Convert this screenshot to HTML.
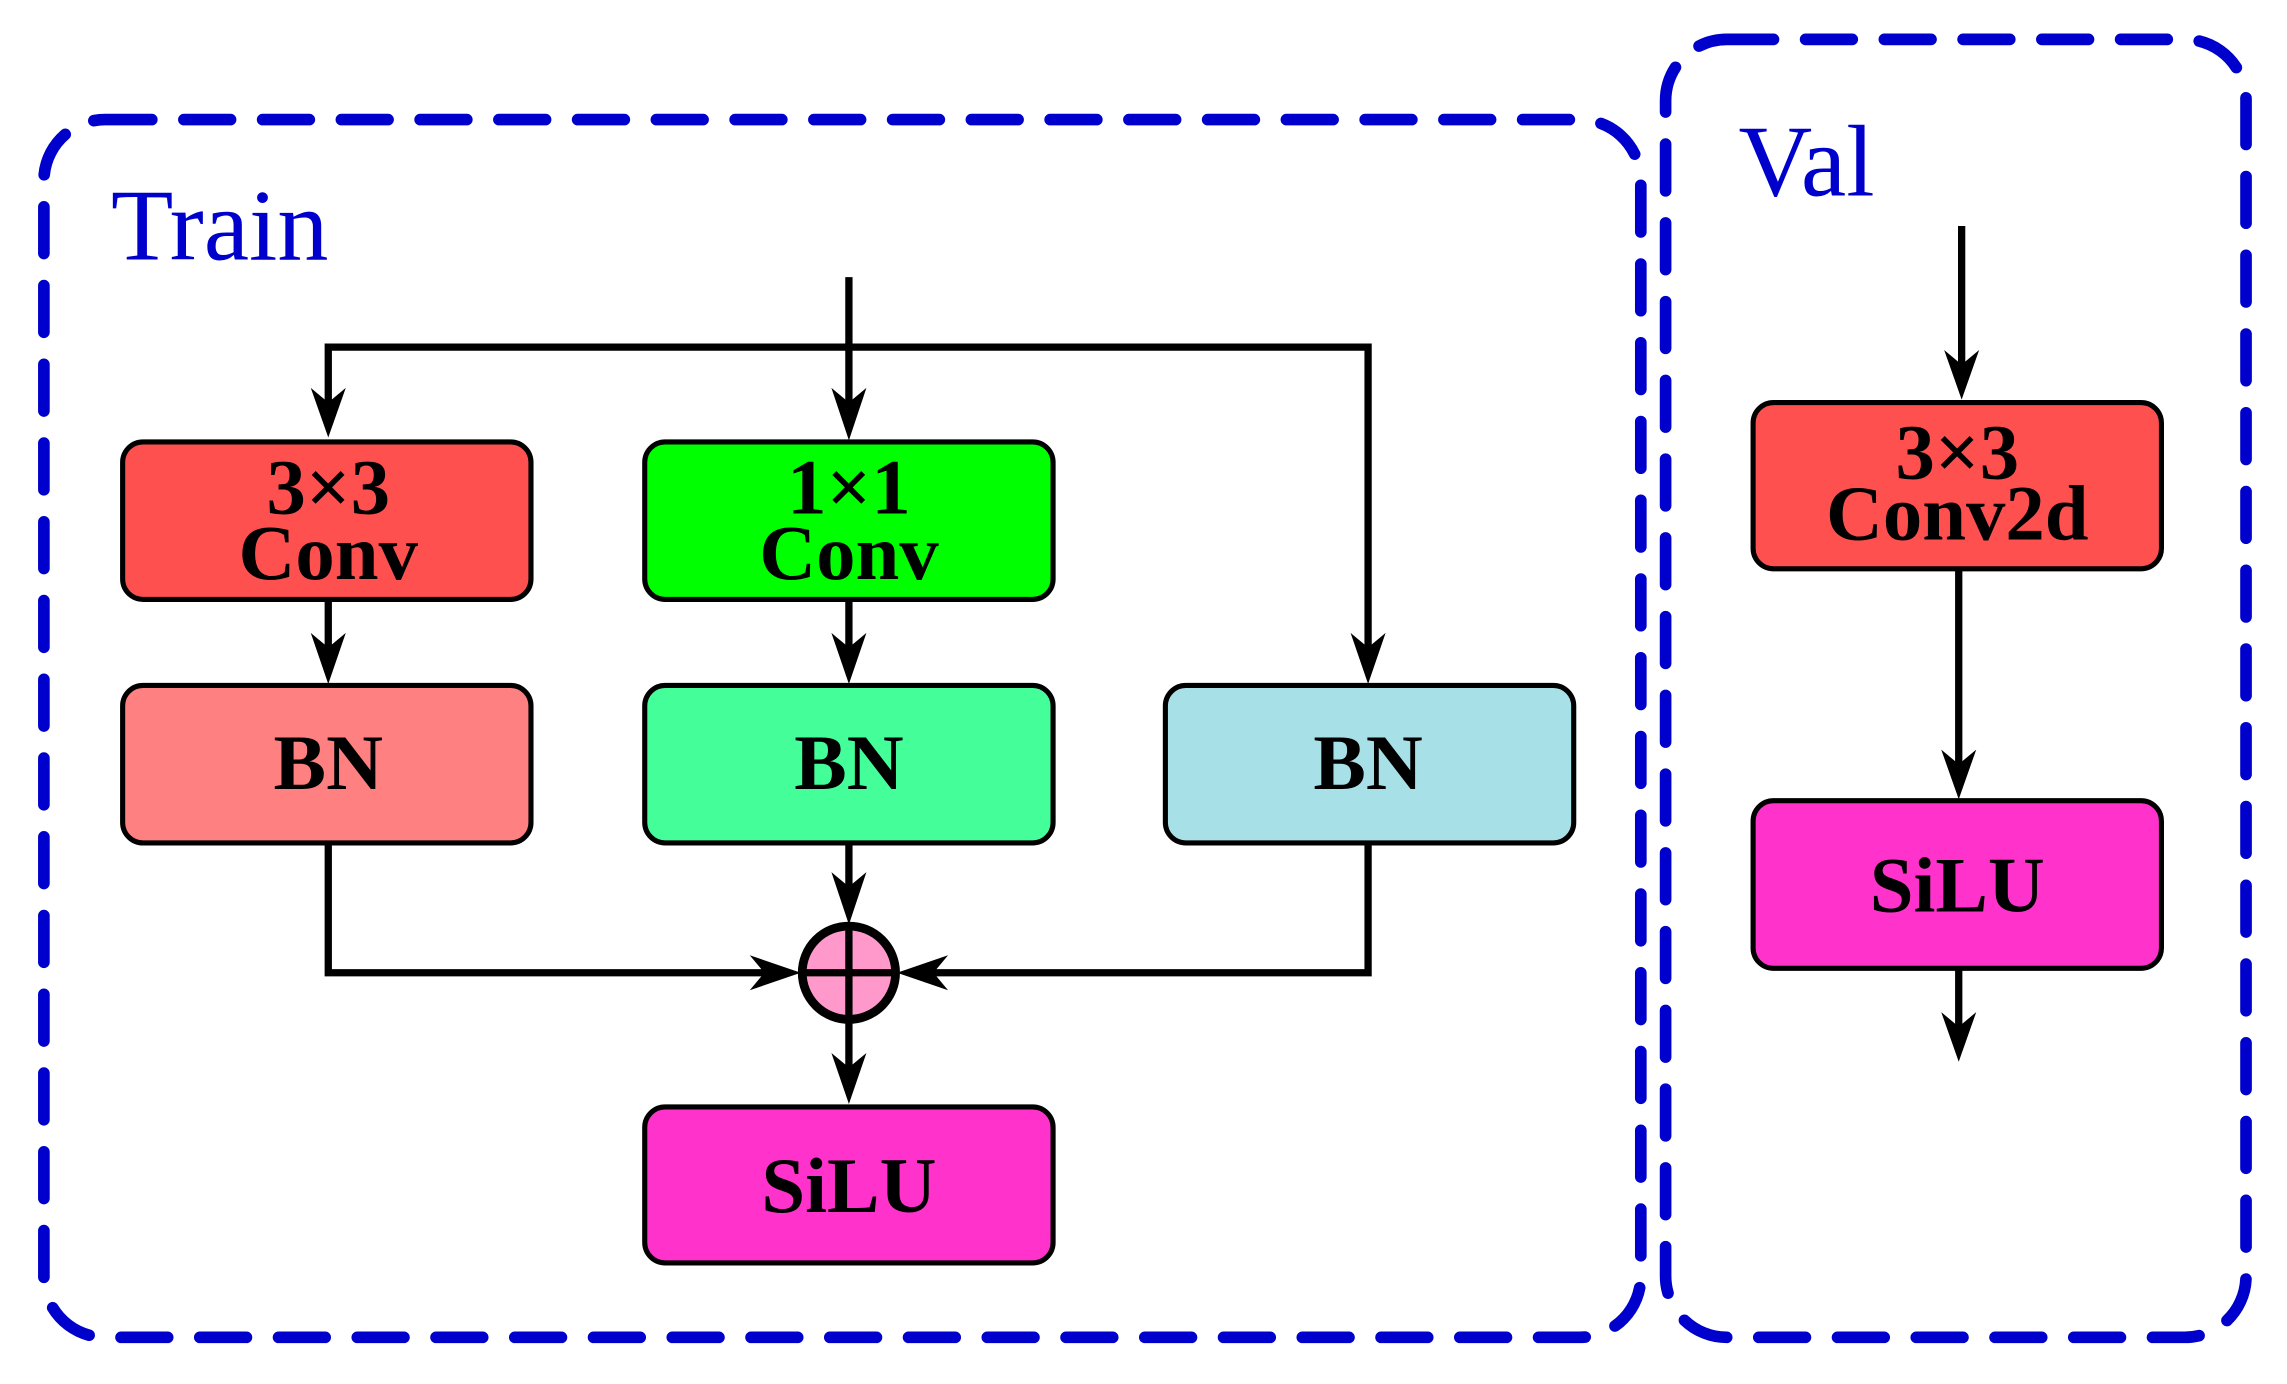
<!DOCTYPE html>
<html><head><meta charset="utf-8"><style>
html,body{margin:0;padding:0;background:#fff;}
svg{display:block;}
text{font-family:"Liberation Serif",serif;}
</style></head><body>
<svg width="2287" height="1384" viewBox="0 0 1568 949" xmlns="http://www.w3.org/2000/svg">
<rect x="30" y="82" width="1095" height="835" rx="42" fill="none" stroke="#0000CC" stroke-width="8" stroke-dasharray="32 22" stroke-linecap="round"/>
<rect x="1142" y="27" width="398" height="890" rx="42" fill="none" stroke="#0000CC" stroke-width="8" stroke-dasharray="32 22" stroke-linecap="round"/>
<text x="76" y="178" font-size="70" fill="#0000CC">Train</text>
<text x="1192" y="134" font-size="70" fill="#0000CC">Val</text>

<g stroke="#000" stroke-width="5" fill="none">
<polyline points="582,190 582,280"/>
<polyline points="225,282 225,238 938,238 938,450"/>
<line x1="225" y1="411" x2="225" y2="450"/>
<line x1="582" y1="411" x2="582" y2="450"/>
<polyline points="225,578 225,667 525,667"/>
<polyline points="938,578 938,667 640,667"/>
<line x1="582" y1="578" x2="582" y2="612"/>
<line x1="582" y1="700" x2="582" y2="738"/>
<line x1="1345" y1="155" x2="1345" y2="255"/>
<line x1="1343" y1="390" x2="1343" y2="530"/>
<line x1="1343" y1="664" x2="1343" y2="706"/>
</g>
<g fill="#000">
<path d="M213,266 L225,300 L237,266 L225,276Z"/>
<path d="M570,266 L582,302 L594,266 L582,276Z"/>
<path d="M926,434 L938,469 L950,434 L938,444Z"/>
<path d="M213,434 L225,469 L237,434 L225,444Z"/>
<path d="M570,434 L582,469 L594,434 L582,444Z"/>
<path d="M570,598 L582,634 L594,598 L582,608Z"/>
<path d="M570,722 L582,757 L594,722 L582,732Z"/>
<path d="M514,655 L549,667 L514,679 L524,667Z"/>
<path d="M650,655 L615,667 L650,679 L640,667Z"/>
<path d="M1333,240 L1345,274 L1357,240 L1345,250Z"/>
<path d="M1331,514 L1343,548 L1355,514 L1343,524Z"/>
<path d="M1331,694 L1343,728 L1355,694 L1343,704Z"/>
</g>
<circle cx="582" cy="667" r="32" fill="#FF99CC" stroke="#000" stroke-width="6"/>
<line x1="582" y1="635" x2="582" y2="699" stroke="#000" stroke-width="5"/>
<line x1="550" y1="667" x2="614" y2="667" stroke="#000" stroke-width="5"/>

<g stroke="#000" stroke-width="3.5">
<rect x="84" y="303" width="280" height="108" rx="14" fill="#FF5050"/>
<rect x="442" y="303" width="280" height="108" rx="14" fill="#00FF00"/>
<rect x="84" y="470" width="280" height="108" rx="14" fill="#FF8080"/>
<rect x="442" y="470" width="280" height="108" rx="14" fill="#44FF99"/>
<rect x="799" y="470" width="280" height="108" rx="14" fill="#A8E0E8"/>
<rect x="442" y="759" width="280" height="107" rx="14" fill="#FF33CC"/>
<rect x="1202" y="276" width="280" height="114" rx="14" fill="#FF5050"/>
<rect x="1202" y="549" width="280" height="115" rx="14" fill="#FF33CC"/>
</g>
<g font-weight="bold" font-size="54" text-anchor="middle" fill="#000">
<text x="225" y="352">3×3</text>
<text x="225" y="397">Conv</text>
<text x="582" y="352">1×1</text>
<text x="582" y="397">Conv</text>
<text x="225" y="541">BN</text>
<text x="582" y="541">BN</text>
<text x="938" y="541">BN</text>
<text x="582" y="831">SiLU</text>
<text x="1342" y="328">3×3</text>
<text x="1342" y="370">Conv2d</text>
<text x="1342" y="625">SiLU</text>
</g>
</svg>
</body></html>
